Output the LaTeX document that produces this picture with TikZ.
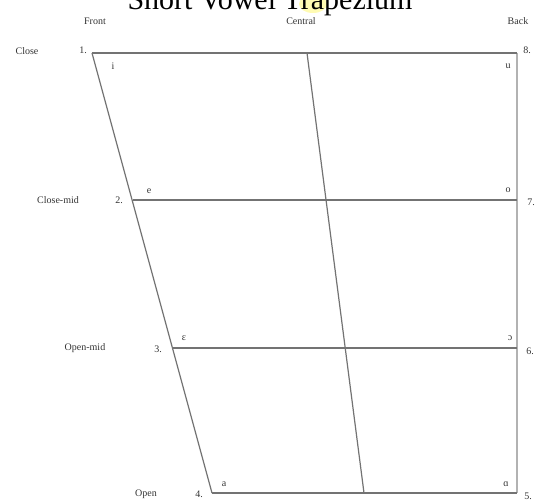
\documentclass[tikz,border=0pt]{standalone}
\usepackage{fontspec}
\setmainfont{Liberation Serif}
\tikzset{
  gridline/.style={draw=black!55,line width=1.2pt},
  backline/.style={draw=black!30,line width=2pt},
  rowlabel/.style={font=\fontsize{10}{12}\selectfont,text=black!80},
  collabel/.style={font=\fontsize{10}{12}\selectfont,text=black!80},
  numlabel/.style={font=\fontsize{10}{12}\selectfont,text=black!80},
  vowel/.style={font=\fontsize{10}{12}\selectfont,text=black!80,inner sep=1pt}
}
\begin{document}
\begin{tikzpicture}[x=1pt,y=-1pt]

\useasboundingbox (0,0) rectangle (539,502);

% Title (cut off at the top)
\fill[yellow!30] (313,4) ellipse (14 and 9);
\node[font=\fontsize{30}{32}\selectfont,anchor=base] (title) at (270,10) {Short Vowel Trapezium};

% Corners
\coordinate (tl) at (92,53);
\coordinate (tr) at (517,53);
\coordinate (ml) at (133,200);
\coordinate (mr) at (517,200);
\coordinate (nl) at (173,348);
\coordinate (nr) at (517,348);
\coordinate (bl) at (212,493);
\coordinate (br) at (517,493);
\coordinate (ct) at (307,53);
\coordinate (cb) at (364,493);

% Frame
\draw[backline] (tr) -- (br);
\draw[gridline] (tl) -- (tr);
\draw[gridline] (ml) -- (mr);
\draw[gridline] (nl) -- (nr);
\draw[gridline] (bl) -- (br);
\draw[gridline] (tl) -- (bl);
\draw[gridline] (ct) -- (cb);

% Columns
\node[collabel] (front) at (95,21) {Front};
\node[collabel] (central) at (301,21) {Central};
\node[collabel] (back) at (518,21) {Back};

% Rows
\node[rowlabel] (close) at (27,51) {Close};
\node[rowlabel] (closemid) at (58,200) {Close-mid};
\node[rowlabel] (openmid) at (85,348) {Open-mid};
\node[rowlabel] (open) at (146,494) {Open};

% Numbers
\node[numlabel] (n1) at (83,50) {1.};
\node[numlabel] (n2) at (119,200) {2.};
\node[numlabel] (n3) at (158,349) {3.};
\node[numlabel] (n4) at (199,494) {4.};
\node[numlabel] (n5) at (528,496) {5.};
\node[numlabel] (n6) at (530,351) {6.};
\node[numlabel] (n7) at (531,202) {7.};
\node[numlabel] (n8) at (527,50) {8.};

% Vowels
\node[vowel] (vi) at (113,66) {i};
\node[vowel] (vu) at (508,66) {u};
\node[vowel] (ve) at (149,191) {e};
\node[vowel] (vo) at (508,190) {o};
\node[vowel] (veps) at (184,338) {ɛ};
\node[vowel] (vopen) at (510,338) {ɔ};
\node[vowel] (va) at (224,484) {a};
\node[vowel] (valpha) at (506,484) {ɑ};

\end{tikzpicture}
\end{document}
